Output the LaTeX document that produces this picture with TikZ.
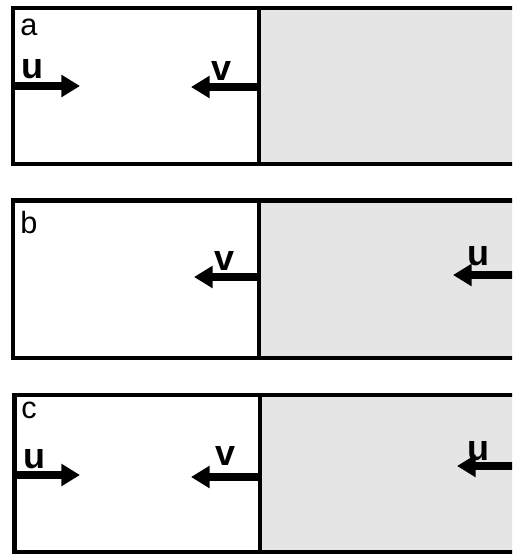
\documentclass[tikz,border=0pt]{standalone}
\usepackage{fontspec}
\setmainfont{Liberation Sans}
\usetikzlibrary{arrows.meta}
\definecolor{panelgray}{HTML}{E5E5E5}
\begin{document}
\begin{tikzpicture}[x=0.75pt,y=-0.75pt,
  frame/.style={line width=3.6pt},
  vec/.style={line width=5.5pt,-{Triangle[length=14pt,width=16pt]}},
  sym/.style={font=\fontsize{27}{27}\selectfont\bfseries,anchor=base west,inner sep=0pt},
  tag/.style={font=\fontsize{23}{23}\selectfont,anchor=base west,inner sep=0pt}]
\useasboundingbox (0,0) rectangle (512,554);
\begin{scope}
\clip (0,0) rectangle (512,554);
% panel a
\fill[panelgray] (259,8) rectangle (540,164);
\draw[frame] (13,8) rectangle (540,164);
\draw[frame] (259,8) -- (259,164);
\node[tag] (la) at (20,35) {a};
\node[sym] (aul) at (21,78) {u};
\node[sym] (avl) at (211,80) {v};
\coordinate (aus) at (13,86);
\coordinate (aue) at (80,86);
\coordinate (avs) at (259,87);
\coordinate (ave) at (191,87);
\draw[vec] (aus) -- (aue);
\draw[vec] (avs) -- (ave);
% panel b
\fill[panelgray] (259,200.5) rectangle (540,358);
\draw[frame] (13,200.5) rectangle (540,358);
\draw[frame] (259,200.5) -- (259,358);
\node[tag] (lb) at (20,233) {b};
\node[sym] (bvl) at (214,270) {v};
\node[sym] (bul) at (467,265) {u};
\coordinate (bvs) at (259,277);
\coordinate (bve) at (194,277);
\coordinate (bus) at (530,275);
\coordinate (bue) at (453,275);
\draw[vec] (bvs) -- (bve);
\draw[vec] (bus) -- (bue);
% panel c
\fill[panelgray] (260,395) rectangle (540,552);
\draw[frame] (14.5,395) rectangle (540,552);
\draw[frame] (260,395) -- (260,552);
\node[tag] (lc) at (21,418) {c};
\node[sym] (cul) at (23,468) {u};
\node[sym] (cvl) at (215,465) {v};
\node[sym] (cur) at (467,460) {u};
\coordinate (cus) at (14.5,475);
\coordinate (cue) at (80,475);
\coordinate (cvs) at (260,477);
\coordinate (cve) at (191,477);
\coordinate (crs) at (530,466);
\coordinate (cre) at (457,466);
\draw[vec] (cus) -- (cue);
\draw[vec] (cvs) -- (cve);
\draw[vec] (crs) -- (cre);
\end{scope}
\end{tikzpicture}
\end{document}
